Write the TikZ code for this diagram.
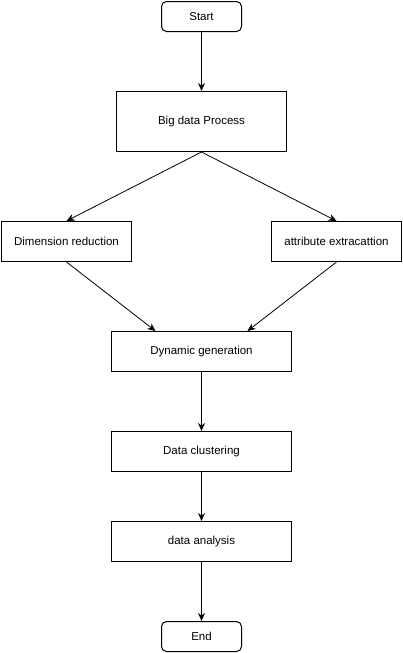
\documentclass[tikz,border=0pt]{standalone}
\usepackage{fontspec}
\setmainfont{Liberation Sans}
\usetikzlibrary{positioning, calc, arrows.meta}

\tikzset{
    passo/.style={draw, line width=1pt, minimum width=170pt, minimum height=60pt, inner sep=0pt, font=\fontsize{11.5}{13}\selectfont},
    blocco/.style={draw, line width=1pt, minimum width=180pt, minimum height=40pt, inner sep=0pt, font=\fontsize{11.5}{13}\selectfont},
    laterale/.style={draw, line width=1pt, minimum width=130pt, minimum height=40pt, inner sep=0pt, font=\fontsize{11.5}{13}\selectfont},
    estremo/.style={draw, rounded corners=5pt, line width=1pt, minimum width=80pt, minimum height=30pt, inner sep=0pt, font=\fontsize{11.5}{13}\selectfont},
    freccia/.style={-{Stealth[length=8pt,width=7pt]}, line width=1pt},
    obliqua/.style={-{Stealth[length=8pt,width=7pt]}, line width=0.8pt}
}

\begin{document}
\begin{tikzpicture}[x=1pt, y=-1pt]
        \useasboundingbox (0,0) rectangle (403,653);
        %blocchi estremi
        \node[estremo] (start) at (201.5,16.5) {Start};
        \node[estremo] (end) at (201.5,636.5) {End};
        %blocco iniziale
        \node[passo] (bigdata) at (201.5,121.5) {Big data Process};
        %blocchi laterali
        \node[laterale] (dimred) at (66.5,241.5) {Dimension reduction};
        \node[laterale] (attrib) at (336.5,241.5) {attribute extracattion};
        %blocchi centrali
        \node[blocco] (dyngen) at (201.5,351.5) {Dynamic generation};
        \node[blocco] (cluster) at (201.5,451.5) {Data clustering};
        \node[blocco] (analysis) at (201.5,541.5) {data analysis};
        %frecce verticali
        \draw[freccia] (start) -- (bigdata);
        \draw[freccia] (dyngen) -- (cluster);
        \draw[freccia] (cluster) -- (analysis);
        \draw[freccia] (analysis) -- (end);
        %frecce oblique
        \draw[obliqua] (bigdata.south) -- (dimred.north);
        \draw[obliqua] (bigdata.south) -- (attrib.north);
        \draw[obliqua] (dimred.south) -- ($(dyngen.north)+(-46,0)$);
        \draw[obliqua] (attrib.south) -- ($(dyngen.north)+(46,0)$);
    \end{tikzpicture}
\end{document}
